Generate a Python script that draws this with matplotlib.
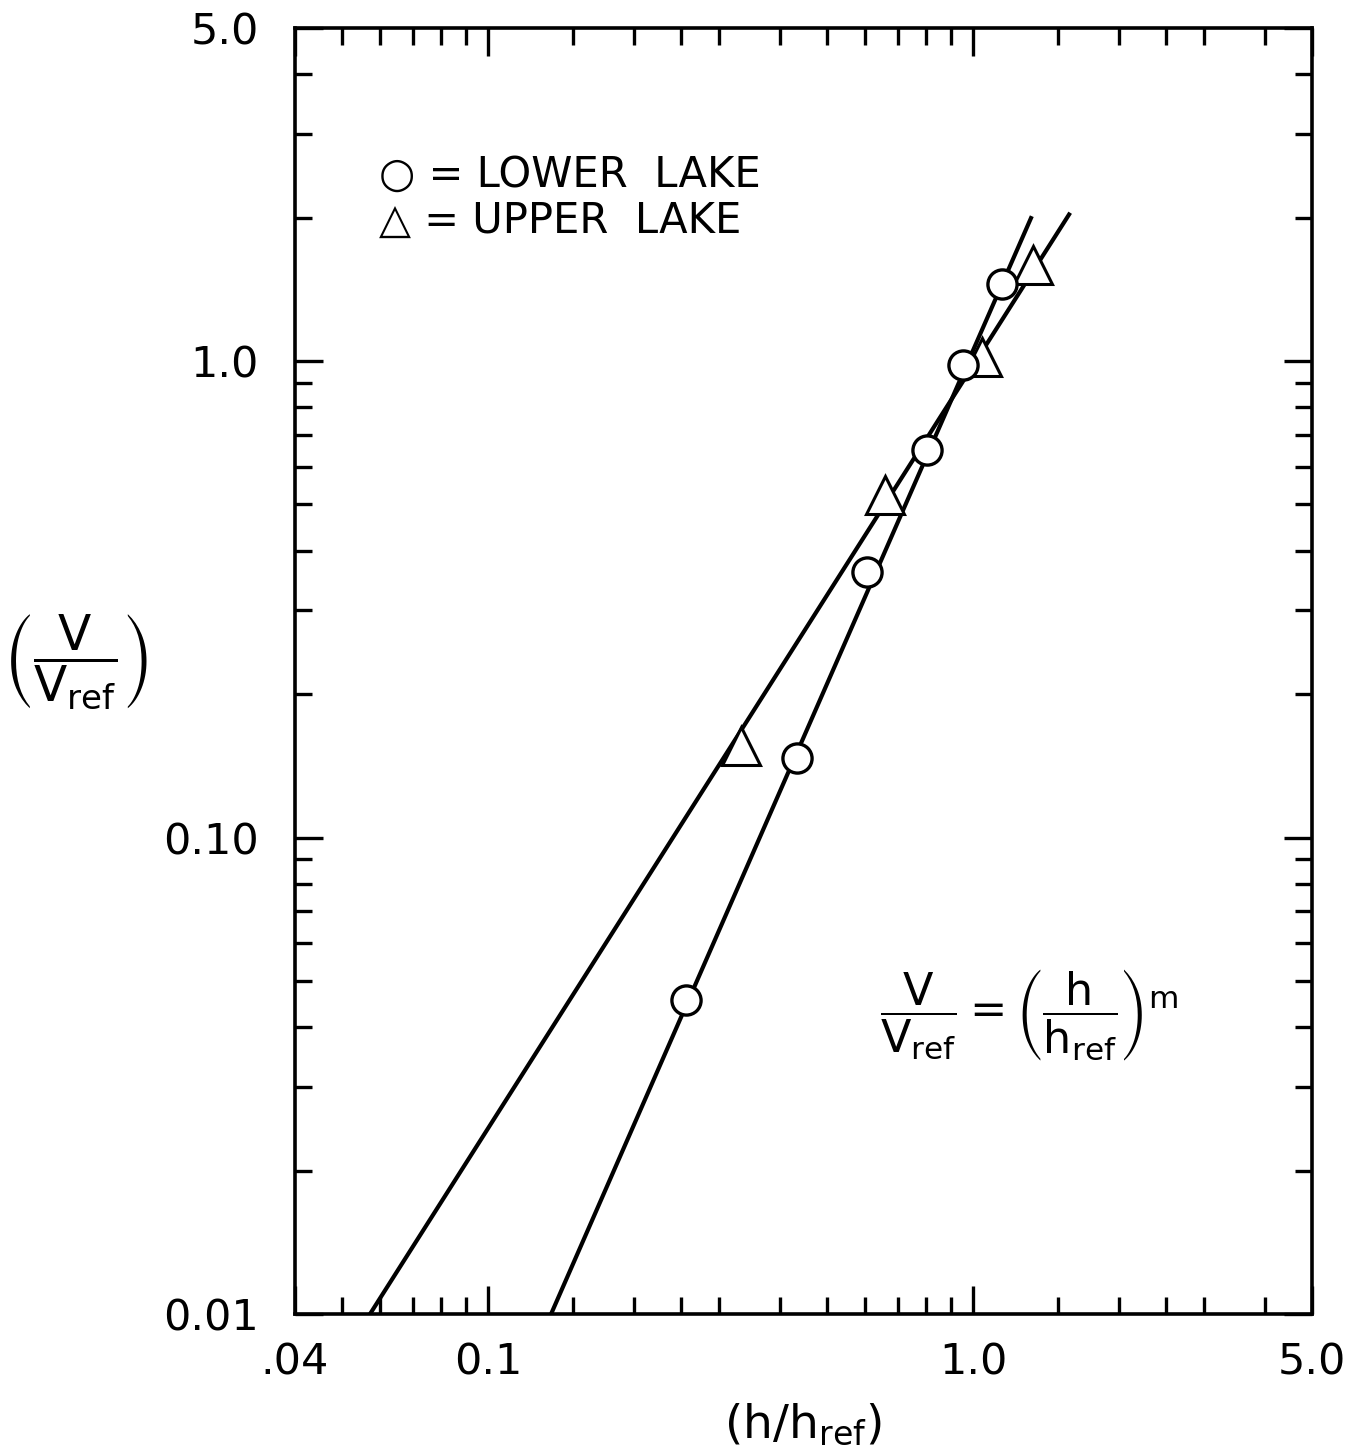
import numpy as np
import matplotlib
matplotlib.use("Agg")
import matplotlib.pyplot as plt
from matplotlib.ticker import FixedLocator, NullFormatter

# values
lower_h = [0.256, 0.434, 0.604, 0.804, 0.953, 1.148]
lower_v = [0.0456, 0.147, 0.361, 0.650, 0.981, 1.451]
upper_h = [0.332, 0.659, 1.043, 1.33]
upper_v = [0.156, 0.523, 1.02, 1.59]

# fitted lines (end points)
lower_fit_h = [0.1349, 1.317]
lower_fit_v = [0.01, 1.995]
upper_fit_h = [0.0571, 1.578]
upper_fit_v = [0.01, 2.03]

x_major = [0.04, 0.1, 1.0, 5.0]
x_major_labels = [".04", "0.1", "1.0", "5.0"]
x_minor = [0.05, 0.06, 0.07, 0.08, 0.09, 0.15, 0.2, 0.25, 0.3, 0.4, 0.5,
           0.6, 0.7, 0.8, 0.9, 1.5, 2.0, 2.5, 3.0, 4.0]
y_major = [0.01, 0.1, 1.0, 5.0]
y_major_labels = ["0.01", "0.10", "1.0", "5.0"]
y_minor = [0.02, 0.03, 0.04, 0.05, 0.06, 0.07, 0.08, 0.09,
           0.2, 0.3, 0.4, 0.5, 0.6, 0.7, 0.8, 0.9, 2.0, 3.0, 4.0]

plt.rcParams['font.family'] = ['DejaVu Sans']
plt.rcParams['mathtext.fontset'] = 'dejavusans'

fig = plt.figure(figsize=(13.46, 14.56), dpi=100)
ax = fig.add_axes([0.2192, 0.0975, 0.7555, 0.8833])

ax.plot(lower_fit_h, lower_fit_v, color="black", lw=3.0, zorder=2)
ax.plot(upper_fit_h, upper_fit_v, color="black", lw=3.0, zorder=2)
ax.plot(upper_h, upper_v, "^", ms=27, mfc="white", mec="black", mew=2.2, zorder=3)
ax.plot(lower_h, lower_v, "o", ms=21, mfc="white", mec="black", mew=2.4, zorder=4)

ax.set_xscale("log")
ax.set_yscale("log")
ax.set_xlim(0.04, 5.0)
ax.set_ylim(0.01, 5.0)

ax.xaxis.set_major_locator(FixedLocator(x_major))
ax.xaxis.set_minor_locator(FixedLocator(x_minor))
ax.yaxis.set_major_locator(FixedLocator(y_major))
ax.yaxis.set_minor_locator(FixedLocator(y_minor))
ax.set_xticklabels(x_major_labels)
ax.set_yticklabels(y_major_labels)
ax.xaxis.set_minor_formatter(NullFormatter())
ax.yaxis.set_minor_formatter(NullFormatter())

ax.tick_params(which="both", direction="in", top=True, right=True, width=2.4)
ax.tick_params(which="major", length=20, labelsize=31)
ax.tick_params(axis="x", which="major", pad=20)
ax.tick_params(axis="y", which="major", pad=26)
ax.tick_params(which="minor", length=12)
for s in ax.spines.values():
    s.set_linewidth(2.6)

ax.text(0.083, 0.886, "\u25CB = LOWER  LAKE", transform=ax.transAxes,
        fontsize=30, va="center", ha="left")
ax.text(0.083, 0.850, "\u25B3 = UPPER  LAKE", transform=ax.transAxes,
        fontsize=30, va="center", ha="left")

ax.text(0.722, 0.232,
        r"$\dfrac{\mathrm{V}}{\mathrm{V_{ref}}}=\left(\dfrac{\mathrm{h}}{\mathrm{h_{ref}}}\right)^{\mathrm{m}}$",
        transform=ax.transAxes, fontsize=32, ha="center", va="center")

fig.text(0.056, 1 - 662 / 1456,
         r"$\left(\dfrac{\mathrm{V}}{\mathrm{V_{ref}}}\right)$",
         fontsize=35, ha="center", va="center")
fig.text(803 / 1346, 1 - 1425 / 1456, r"$(\mathrm{h/h_{ref}})$",
         fontsize=34, ha="center", va="center")

fig.savefig("out.png", dpi=100, facecolor="white")
